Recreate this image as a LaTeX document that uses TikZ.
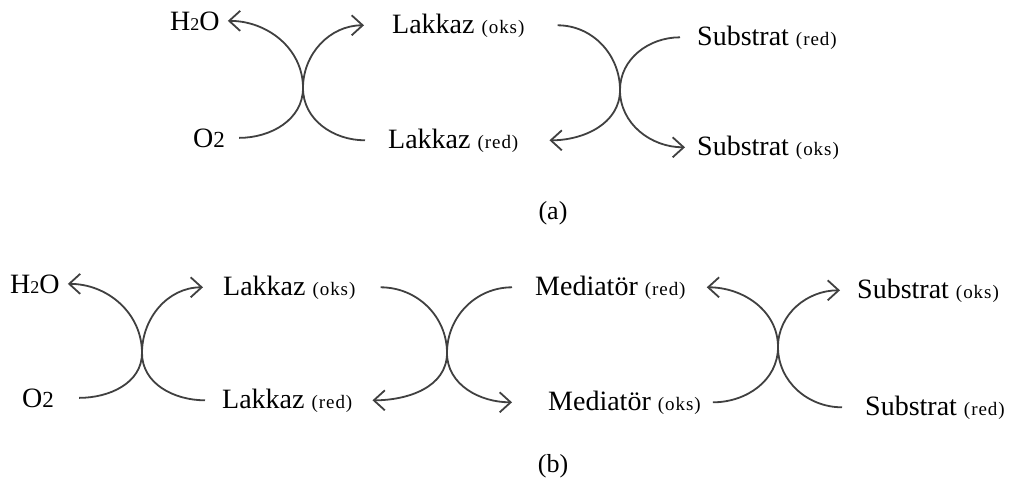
\documentclass[tikz,border=0pt]{standalone}
\usepackage{fontspec}
\setmainfont{Liberation Serif}
\usetikzlibrary{arrows.meta}
\newfontfamily\subfont[LetterSpace=5]{Liberation Serif}
\newcommand{\st}[1]{{\subfont\fontsize{19}{22}\selectfont(#1)}}
\newcommand{\lowtwo}{{\fontsize{18}{20}\selectfont 2}}
\newcommand{\bigtwo}{{\fontsize{23}{24}\selectfont 2}}
\begin{document}
\begin{tikzpicture}[x=1pt,y=1pt,
  arr/.style={draw=black!75, line width=1.8pt, -{Straight Barb[length=11pt,width=20pt]}},
  txt/.style={anchor=base west, inner sep=0pt, font=\fontsize{28}{32}\selectfont}]
\useasboundingbox (0,0) rectangle (1015,-498);

% (a)
\node[txt] (h2oa) at (170,-30) {H\lowtwo O};
\node[txt] (o2a) at (193,-147) {O\bigtwo};
\node[txt] (loksa) at (392,-33) {Lakkaz \st{oks}};
\node[txt] (lreda) at (388,-148) {Lakkaz \st{red}};
\node[txt] (sreda) at (697,-45) {Substrat \st{red}};
\node[txt] (soksa) at (697,-155) {Substrat \st{oks}};
\coordinate (xa1) at (303,-88);
\coordinate (xa2) at (620,-90);
\draw[arr] ([xshift=14pt]o2a.east) to[out=0,in=-90] (xa1) to[out=90,in=0] ([xshift=8pt]h2oa.east);
\draw[arr] ([xshift=-23pt]lreda.west) to[out=180,in=-90] (xa1) to[out=90,in=180] ([xshift=-28pt]loksa.west);
\draw[arr] ([xshift=33pt]loksa.east) to[out=0,in=90] (xa2) to[out=-90,in=0] ([xshift=31pt]lreda.east);
\draw[arr] ([xshift=-17pt]sreda.west) to[out=180,in=90] (xa2) to[out=-90,in=180] ([xshift=-12pt]soksa.west);
\node[font=\fontsize{26}{30}\selectfont] (capa) at (553,-213) {(a)};

% (b)
\node[txt] (h2ob) at (10,-293) {H\lowtwo O};
\node[txt] (o2b) at (22,-407) {O\bigtwo};
\node[txt] (loksb) at (223,-295) {Lakkaz \st{oks}};
\node[txt] (lredb) at (222,-408) {Lakkaz \st{red}};
\node[txt] (mredb) at (535,-295) {Mediatör \st{red}};
\node[txt] (moksb) at (548,-410) {Mediatör \st{oks}};
\node[txt] (soksb) at (857,-298) {Substrat \st{oks}};
\node[txt] (sredb) at (865,-415) {Substrat \st{red}};
\coordinate (xb1) at (142,-353);
\coordinate (xb2) at (447,-353);
\coordinate (xb3) at (778,-347);
\draw[arr] ([xshift=25pt]o2b.east) to[out=0,in=-90] (xb1) to[out=90,in=0] ([xshift=8pt]h2ob.east);
\draw[arr] ([xshift=-17pt]lredb.west) to[out=180,in=-90] (xb1) to[out=90,in=180] ([xshift=-20pt]loksb.west);
\draw[arr] ([xshift=25pt]loksb.east) to[out=0,in=90] (xb2) to[out=-90,in=0] ([xshift=20pt]lredb.east);
\draw[arr] ([xshift=-23pt]mredb.west) to[out=180,in=90] (xb2) to[out=-90,in=180] ([xshift=-36pt]moksb.west);
\draw[arr] ([xshift=12pt]moksb.east) to[out=0,in=-90] (xb3) to[out=90,in=0] ([xshift=21pt]mredb.east);
\draw[arr] ([xshift=-23pt]sredb.west) to[out=180,in=-90] (xb3) to[out=90,in=180] ([xshift=-17pt]soksb.west);
\node[font=\fontsize{26}{30}\selectfont] (capb) at (553,-466) {(b)};
\end{tikzpicture}
\end{document}
